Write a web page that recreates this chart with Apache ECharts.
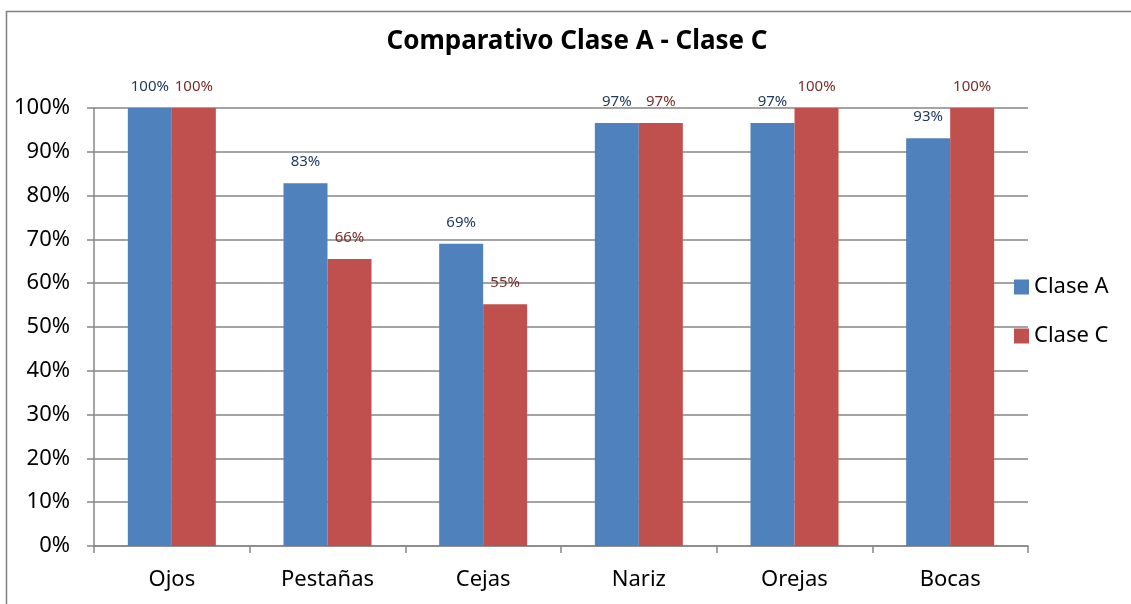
<!DOCTYPE html>
<html>
<head>
<meta charset="utf-8">
<script src="https://cdn.jsdelivr.net/npm/echarts@6/dist/echarts.min.js"></script>
<style>
  html, body { margin: 0; padding: 0; background: #fff; }
  #Chart { width: 1131px; height: 604px; }
</style>
</head>
<body>
<div id="Chart"></div>
<script>
  // categories and values (percent)
  var categorias = ['Ojos', 'Pestañas', 'Cejas', 'Nariz', 'Orejas', 'Bocas']
  var claseA = [100, 82.8, 69.0, 96.6, 96.6, 93.1]
  var claseC = [100, 65.5, 55.2, 96.6, 100, 100]
  var yTicks = [0, 10, 20, 30, 40, 50, 60, 70, 80, 90, 100]

  var font = '"Noto Sans", "Open Sans", sans-serif'
  var gris = '#868686'

  var Chart = echarts.init(document.getElementById('Chart'))

  function serie(name, data, color, labelColor) {
    return {
      name: name,
      type: 'bar',
      data: data,
      barWidth: 44,
      barGap: '0%',
      itemStyle: { color: color },
      label: {
        show: true,
        position: 'top',
        distance: 14,
        fontFamily: font,
        fontSize: 15,
        color: labelColor,
        formatter: function (p) {
          return Math.round(p.value) + '%'
        }
      }
    }
  }

  Chart.setOption({
    animation: false,
    textStyle: { fontFamily: font },
    title: {
      text: 'Comparativo Clase A - Clase C',
      left: 572,
      top: 24,
      textAlign: 'center',
      textStyle: {
        fontFamily: font,
        fontSize: 26,
        fontWeight: 'bold',
        color: '#000'
      }
    },
    graphic: [{
      type: 'rect',
      shape: { x: 6.5, y: 11.5, width: 1300, height: 800 },
      style: { fill: 'none', stroke: '#7f7f7f', lineWidth: 1.5 },
      silent: true
    }],
    legend: {
      orient: 'vertical',
      left: 1014,
      top: 276,
      padding: 0,
      itemWidth: 15,
      itemHeight: 15,
      itemGap: 27,
      icon: 'rect',
      textStyle: { fontFamily: font, fontSize: 22, color: '#000' },
      data: ['Clase A', 'Clase C']
    },
    grid: {
      left: 94,
      right: 103,
      top: 108,
      bottom: 58,
      containLabel: false
    },
    xAxis: {
      type: 'category',
      data: categorias,
      axisLine: { lineStyle: { color: gris, width: 1.5 } },
      axisTick: { show: true, length: 7, lineStyle: { color: gris, width: 1.5 } },
      axisLabel: { fontFamily: font, fontSize: 22, color: '#000', margin: 23 }
    },
    yAxis: {
      type: 'value',
      min: 0,
      max: 100,
      interval: 10,
      axisLine: { show: true, lineStyle: { color: gris, width: 1.5 } },
      axisTick: { show: true, length: 7, lineStyle: { color: gris, width: 1.5 } },
      splitLine: { lineStyle: { color: gris, width: 1.5 } },
      axisLabel: {
        fontFamily: font,
        fontSize: 22,
        color: '#000',
        margin: 24,
        formatter: function (v) {
          return yTicks.indexOf(v) >= 0 ? v + '%' : ''
        }
      }
    },
    series: [
      serie('Clase A', claseA, '#4F81BD', '#1F3A60'),
      serie('Clase C', claseC, '#C0504D', '#7A2C2A')
    ]
  })
</script>
</body>
</html>
